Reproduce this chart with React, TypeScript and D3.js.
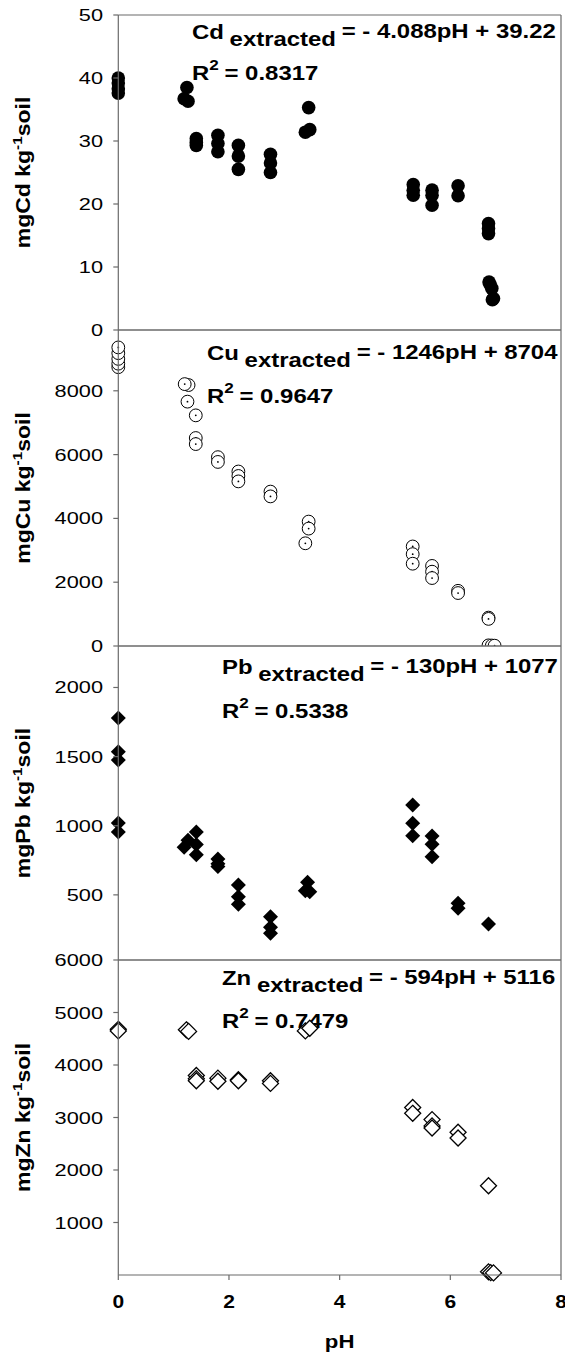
import * as d3 from "d3";

// pH of each extraction and the metal found (mg kg-1 soil)
const cdPH = [0, 0, 0, 0, 1.19, 1.26, 1.24, 1.41, 1.41, 1.41, 1.8, 1.8, 1.8, 2.17, 2.17, 2.17, 2.75, 2.75, 2.75, 3.38, 3.46, 3.44, 5.33, 5.33, 5.33, 5.67, 5.67, 5.67, 6.14, 6.14, 6.69, 6.69, 6.69, 6.7, 6.72, 6.75, 6.78, 6.76];
const cdVal = [40.0, 39.2, 38.3, 37.6, 36.7, 36.3, 38.5, 30.4, 29.8, 29.3, 30.9, 29.6, 28.3, 29.3, 27.6, 25.5, 27.9, 26.5, 25.0, 31.4, 31.8, 35.3, 23.1, 22.2, 21.4, 22.2, 21.4, 19.8, 22.9, 21.3, 16.9, 16.1, 15.3, 7.6, 7.2, 6.6, 5.0, 4.8];

const cuPH = [0, 0, 0, 0, 0, 1.27, 1.2, 1.25, 1.4, 1.4, 1.4, 1.8, 1.8, 2.17, 2.17, 2.17, 2.75, 2.75, 3.44, 3.44, 3.38, 5.32, 5.32, 5.32, 5.67, 5.67, 5.67, 6.14, 6.14, 6.69, 6.69, 6.69, 6.75, 6.8];
const cuVal = [8740, 8850, 9000, 9180, 9360, 8180, 8210, 7660, 7230, 6520, 6330, 5920, 5770, 5470, 5330, 5160, 4840, 4690, 3900, 3680, 3220, 3120, 2880, 2580, 2510, 2330, 2130, 1730, 1660, 890, 850, 20, 15, 10];

const pbPH = [0, 0, 0, 0, 0, 1.19, 1.26, 1.41, 1.41, 1.41, 1.8, 1.8, 1.8, 2.17, 2.17, 2.17, 2.75, 2.75, 2.75, 3.38, 3.42, 3.46, 5.32, 5.32, 5.32, 5.67, 5.67, 5.67, 6.14, 6.14, 6.69];
const pbVal = [1780, 1535, 1475, 1020, 955, 845, 895, 955, 865, 790, 760, 725, 705, 572, 487, 432, 342, 265, 222, 530, 591, 523, 1150, 1018, 928, 926, 866, 776, 439, 403, 289];

const znPH = [0, 0, 1.23, 1.27, 1.41, 1.41, 1.41, 1.8, 1.8, 2.17, 2.17, 2.75, 2.75, 3.38, 3.46, 5.32, 5.32, 5.67, 5.67, 5.67, 6.14, 6.14, 6.69, 6.69, 6.73, 6.78];
const znVal = [4680, 4650, 4670, 4640, 3800, 3740, 3700, 3750, 3690, 3720, 3700, 3700, 3650, 4650, 4700, 3190, 3080, 2960, 2840, 2800, 2720, 2610, 1700, 60, 45, 40];

const cdTicks = [0, 10, 20, 30, 40, 50];
const cuTicks = [0, 2000, 4000, 6000, 8000];
const pbTicks = [500, 1000, 1500, 2000];
const znTicks = [1000, 2000, 3000, 4000, 5000, 6000];
const phTicks = [0, 2, 4, 6, 8];

const metals = ["Cd", "Cu", "Pb", "Zn"];
const eqRight = ["= - 4.088pH + 39.22", "= - 1246pH + 8704", "= - 130pH + 1077", "= - 594pH + 5116"];
const eqR2 = ["0.8317", "0.9647", "0.5338", "0.7479"];

const W = 565;
const H = 1355;
const FONT = "'Liberation Sans', Arial, sans-serif";
const LINE = "#6a6a6a";

const x = d3.scaleLinear().domain([0, 8]).range([118.3, 561]);
const X0 = x(0);
const X1 = x(8);

const panels = [
  { ph: cdPH, val: cdVal, ticks: cdTicks, top: 15, bottom: 330, y: d3.scaleLinear().domain([0, 50]).range([330, 15]), mark: "dot", eqX: 192, eqY: 39, r2Y: 80 },
  { ph: cuPH, val: cuVal, ticks: cuTicks, top: 330, bottom: 646, y: d3.scaleLinear().domain([0, 10000]).range([646, 327]), mark: "ring", eqX: 207, eqY: 360, r2Y: 403 },
  { ph: pbPH, val: pbVal, ticks: pbTicks, top: 646, bottom: 960, y: d3.scaleLinear().domain([0, 2300]).range([964, 646]), mark: "diamond", eqX: 222, eqY: 674, r2Y: 718 },
  { ph: znPH, val: znVal, ticks: znTicks, top: 960, bottom: 1275, y: d3.scaleLinear().domain([0, 6000]).range([1275, 960]), mark: "odiamond", eqX: 222, eqY: 985, r2Y: 1028 },
];

const diamond = (h: number) => `M0,${-h}L${h},0L0,${h}L${-h},0Z`;

function Marker({ kind, cx, cy }: { kind: string; cx: number; cy: number }) {
  const t = `translate(${cx},${cy})`;
  if (kind === "dot") return <circle cx={cx} cy={cy} r={6.8} fill="#000" />;
  if (kind === "ring")
    return (
      <g transform={t}>
        <circle r={6.4} fill="#fff" stroke="#000" strokeWidth={1} />
        <circle r={0.9} fill="#000" />
      </g>
    );
  if (kind === "diamond") return <path transform={t} d={diamond(7.5)} fill="#000" />;
  return <path transform={t} d={diamond(8)} fill="#fff" stroke="#000" strokeWidth={1.3} />;
}

export default function App() {
  return (
    <svg width={W} height={H} style={{ position: "absolute", left: 0, top: 0, background: "#fff" }} fontFamily={FONT}>
      {panels.map((p, i) => (
        <g key={"p" + i}>
          <rect x={X0} y={p.top} width={X1 - X0} height={p.bottom - p.top} fill="#fff" />
          <text transform={`translate(${p.eqX},${p.eqY}) scale(1.14,1)`} fontSize={21} fontWeight="bold">
            <tspan>{metals[i]}</tspan>
            <tspan dx={5} dy={6.5}>extracted</tspan>
            <tspan dx={5} dy={-7.5}>{eqRight[i]}</tspan>
          </text>
          <text transform={`translate(${p.eqX},${p.r2Y}) scale(1.14,1)`} fontSize={21} fontWeight="bold">
            <tspan>R</tspan>
            <tspan fontSize={15} dy={-10}>2</tspan>
            <tspan dx={5} dy={10}>= {eqR2[i]}</tspan>
          </text>
          {p.ph.map((ph, j) => (
            <Marker key={j} kind={p.mark} cx={x(ph)} cy={p.y(p.val[j])} />
          ))}
        </g>
      ))}

      {/* frame */}
      <line x1={X0} x2={X0} y1={15} y2={1275} stroke={LINE} strokeWidth={1.2} />
      <line x1={X1} x2={X1} y1={15} y2={1275} stroke={LINE} strokeWidth={1.2} />
      {panels.map((p, i) => (
        <g key={"f" + i}>
          <line x1={X0} x2={X1} y1={p.top} y2={p.top} stroke={LINE} strokeWidth={1.2} />
          <line x1={X0} x2={X1} y1={p.bottom} y2={p.bottom} stroke={LINE} strokeWidth={1.2} />
        </g>
      ))}

      {/* y axes */}
      {panels.map((p, i) => (
        <g key={"a" + i}>
          {p.ticks.map((t) => (
            <g key={t}>
              <line x1={X0 - 5} x2={X0} y1={p.y(t)} y2={p.y(t)} stroke={LINE} strokeWidth={1.2} />
              <text transform={`translate(103,${p.y(t) + 6}) scale(1.28,1)`} textAnchor="end" fontSize={17} fill="#000">
                {t}
              </text>
            </g>
          ))}
          <text
            transform={`translate(30,${(p.top + p.bottom) / 2}) rotate(-90) scale(1.18,1)`}
            textAnchor="middle"
            fontSize={19.5}
            fontWeight="bold"
          >
            <tspan>{"mg" + metals[i] + " kg"}</tspan>
            <tspan fontSize={13} dy={-8}>-1</tspan>
            <tspan dy={8}>soil</tspan>
          </text>
        </g>
      ))}

      {/* x axis */}
      {phTicks.map((t) => (
        <g key={"x" + t}>
          <line x1={x(t)} x2={x(t)} y1={1275} y2={1280} stroke={LINE} strokeWidth={1.2} />
          <text transform={`translate(${x(t)},1308) scale(1.2,1)`} textAnchor="middle" fontSize={17.5} fontWeight="bold">
            {t}
          </text>
        </g>
      ))}
      <text transform={`translate(${x(4)},1348) scale(1.2,1)`} textAnchor="middle" fontSize={18.5} fontWeight="bold">
        pH
      </text>
    </svg>
  );
}
